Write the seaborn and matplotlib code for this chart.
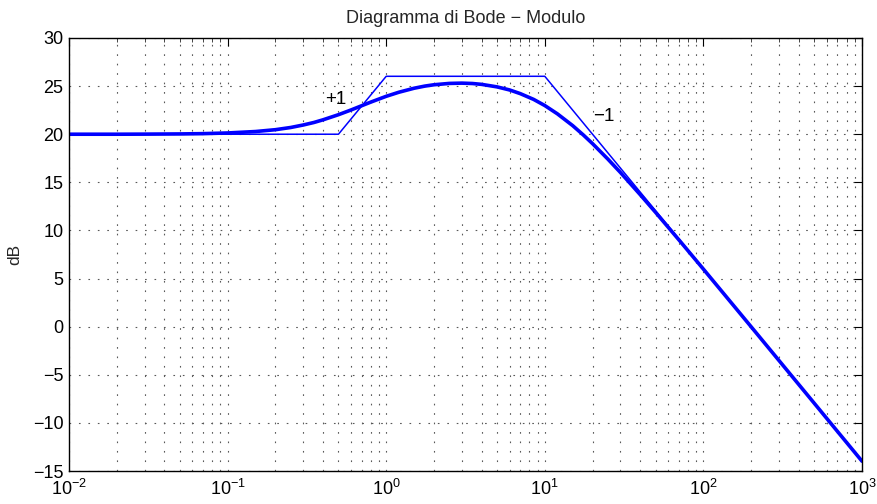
import numpy as np
import pandas as pd
import matplotlib
matplotlib.use("Agg")
import matplotlib.pyplot as plt
import seaborn as sns
from matplotlib.ticker import LogLocator, MultipleLocator, NullFormatter

freq = [0.01, 0.02, 0.03, 0.05, 0.07, 0.1, 0.15, 0.2, 0.25, 0.3, 0.35, 0.4,
        0.5, 0.6, 0.7, 0.8, 1.0, 1.2, 1.5, 1.75, 2.0, 2.5, 3.0, 3.5, 4.0, 5.0,
        6.0, 7.0, 8.5, 10.0, 12.0, 15.0, 17.5, 20.0, 25.0, 30.0, 40.0, 50.0,
        70.0, 100.0, 200.0, 500.0, 1000.0]
mag_db = [20.0, 20.0, 20.01, 20.03, 20.06, 20.13, 20.28, 20.47, 20.70, 20.96,
          21.22, 21.50, 22.03, 22.52, 22.96, 23.34, 23.94, 24.36, 24.78, 25.00,
          25.14, 25.28, 25.31, 25.27, 25.18, 24.92, 24.60, 24.22, 23.62, 22.98,
          22.12, 20.89, 19.92, 19.02, 17.41, 16.02, 13.71, 11.87, 9.03, 5.98,
          -0.01, -7.96, -13.98]

# Asymptotic approximation corners
asym_freq = [0.01, 0.5, 1.0, 10.0, 1000.0]
asym_db = [20.0, 20.0, 26.02, 26.02, -13.98]

# Slope annotations
slope_labels = ["+1", "\u22121"]
slope_x = [0.48, 23.5]
slope_y = [23.6, 21.8]

title = "Diagramma di Bode \u2212 Modulo"
ylabel = "dB"

sns.set_style("white")
plt.rcParams["font.family"] = ["Liberation Sans", "DejaVu Sans"]
plt.rcParams["mathtext.fontset"] = "custom"
plt.rcParams["mathtext.rm"] = "Liberation Sans"
plt.rcParams["mathtext.it"] = "Liberation Sans"
plt.rcParams["mathtext.default"] = "rm"

fig = plt.figure(figsize=(8.78, 5.04), dpi=100)
ax = fig.add_axes([69 / 878, 1 - 471 / 504, 793 / 878, 433 / 504])

df_curve = pd.DataFrame({"w": freq, "db": mag_db})
df_asym = pd.DataFrame({"w": asym_freq, "db": asym_db})

sns.lineplot(data=df_asym, x="w", y="db", ax=ax, color=(0, 0, 1), lw=1.1,
             sort=False, estimator=None)
sns.lineplot(data=df_curve, x="w", y="db", ax=ax, color=(0, 0, 1), lw=2.6,
             estimator=None)

ax.set_xscale("log")
ax.set_xlim(1e-2, 1e3)
ax.set_ylim(-15, 30)
ax.yaxis.set_major_locator(MultipleLocator(5))
ax.xaxis.set_major_locator(LogLocator(base=10, numticks=10))
ax.xaxis.set_minor_locator(LogLocator(base=10, subs=np.arange(2, 10), numticks=20))
ax.xaxis.set_minor_formatter(NullFormatter())

for s, x, y in zip(slope_labels, slope_x, slope_y):
    ax.text(x, y, s, fontsize=13.5, ha="center", va="center", color="k")

grid_style = dict(color="0.35", linestyle=(0, (1.5, 7)), lw=0.8)
ax.grid(True, which="major", axis="both", **grid_style)
ax.grid(True, which="minor", axis="x", **grid_style)
ax.set_axisbelow(True)

ax.tick_params(which="major", direction="in", length=6, width=0.8,
               top=True, right=True, labelsize=13, colors="k")
ax.tick_params(axis="x", which="major", pad=6)
ax.tick_params(axis="y", which="major", pad=4)
ax.tick_params(which="minor", direction="in", length=3, width=0.6,
               top=True, right=True)
for sp in ax.spines.values():
    sp.set_visible(True)
    sp.set_color("k")
    sp.set_linewidth(1.0)

ax.set_xlabel("")
ax.set_ylabel(ylabel, fontsize=12.5)
ax.yaxis.set_label_coords((22 - 69) / 793, 0.5)
ax.set_title(title, fontsize=13, pad=11)

fig.savefig("out.png", dpi=100)
